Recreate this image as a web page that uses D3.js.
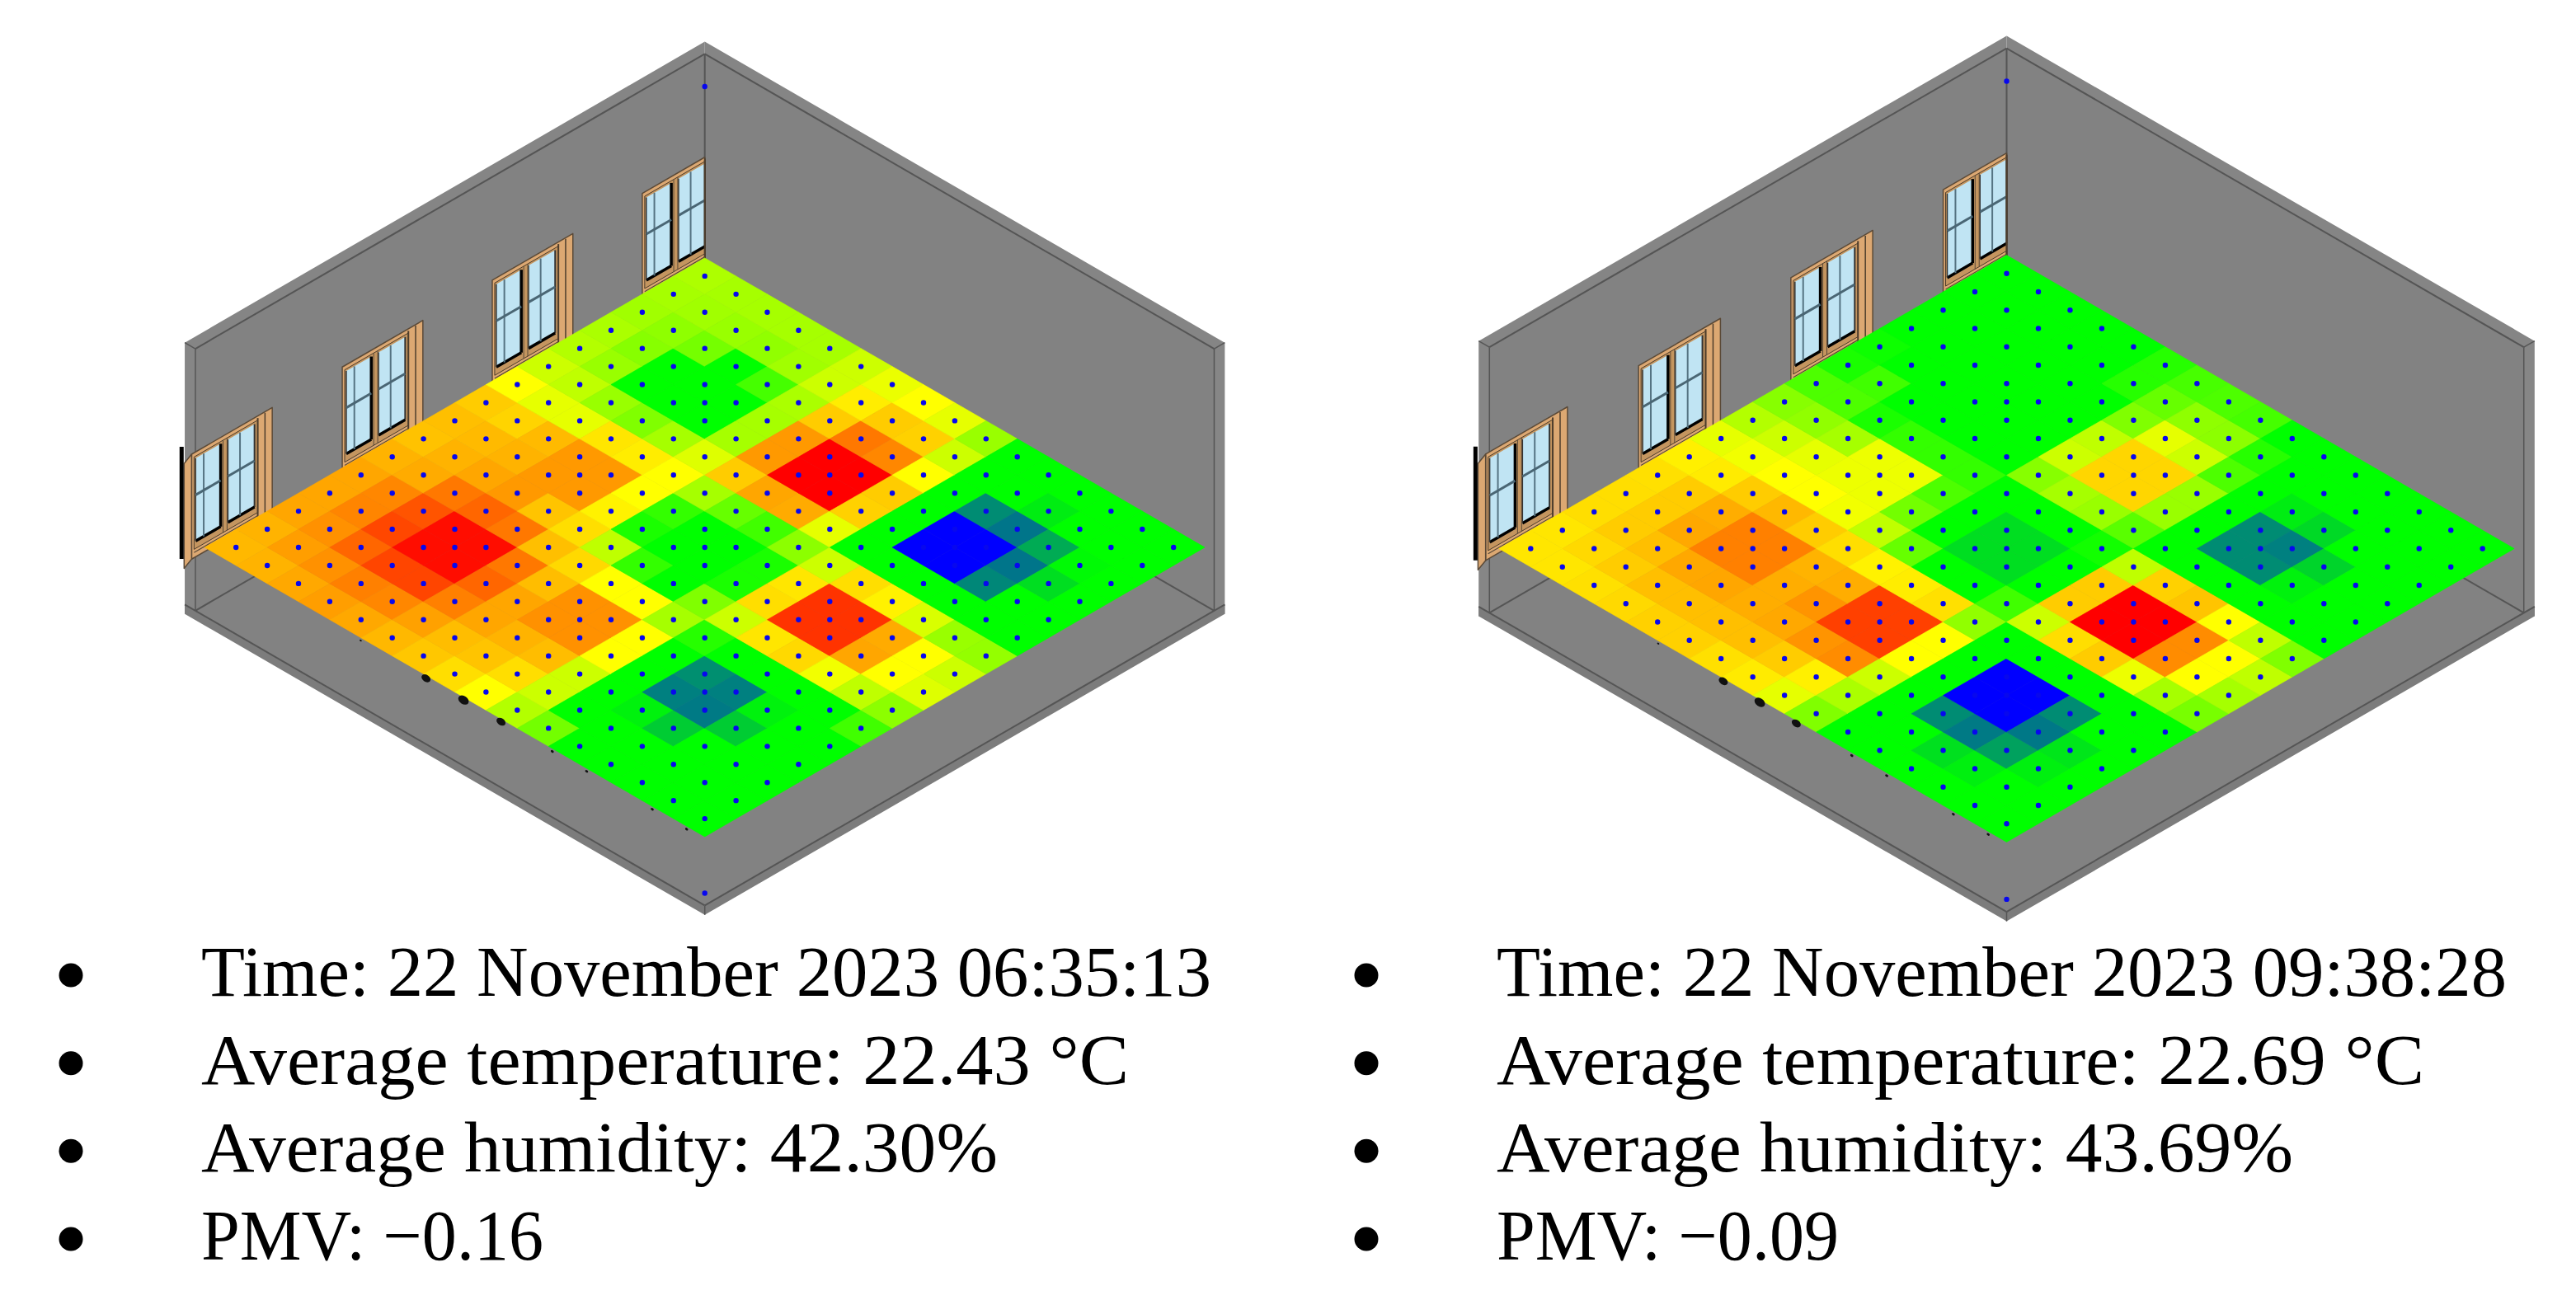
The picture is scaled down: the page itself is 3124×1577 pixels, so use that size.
<!DOCTYPE html>
<html><head><meta charset="utf-8">
<title>Floor temperature maps</title>
<script src="https://cdn.jsdelivr.net/npm/d3@7"></script>
<style>
body { margin: 0; background: #fff; }
text { font-family: "Liberation Serif", serif; fill: #000; }
</style>
</head>
<body>
<script>

// colour level per floor tile: 0 blue, 10 green, 20 yellow, 30 red
// one row per j (back-left wall side is i=0), one column per i
var heatA = [
	[22.8,23,23.4,23.8,23.4,22.8,22.2,21.3,20,17,14.5,10,10,10,10,10],
	[23,23.8,24.3,25,24.7,23.7,22.6,22.3,21.3,18,10,10,10,10,10,10],
	[23.5,24.3,26,27.3,27.3,25,23.5,23,22.6,18,10,9.5,8,10,10,10],
	[23.5,24.8,27.2,29.5,29.5,26,23.5,24.3,24.3,20,10,5,4.8,8,10,10],
	[23.5,24.7,26.7,29.5,29.5,25.3,22.6,24.3,24.3,20,10,5.6,5,9.5,10,10],
	[23,23.3,25.3,26,25.3,22.5,21.5,20,20,16.5,11.5,10,10,10,10,12.5],
	[22.4,23,23.5,24,22.3,21.3,17.5,12,10,15,18,21,21.5,19.5,17.5,15.5],
	[22.5,22.7,23,24,24,20.5,11,10,10,11,21.3,28,28,23.5,20,18.7],
	[22,21.7,22.7,24,24,20,12,10,10,11,21,28,28,23.3,20,18],
	[20,19,19,21,20.7,20,16.5,14,12.5,15.5,18,21.3,20.5,18.5,16,15.8],
	[18,17.5,16,15,16.5,18.7,22,23.5,23.3,19,10,10,10,10,10,10],
	[17,16,10,10,10,16.5,24,30,30,21.8,10,0,0,5.3,10,10],
	[16.7,15.3,10,10,10,16.5,24,30,30,22,10,0,0,4.6,8.7,10],
	[16.3,15.6,14.6,10,12.7,16.7,22,25.3,24.7,20,10,5.5,4.6,6.7,9.8,10],
	[16.5,16.3,16,15.7,16.3,18,20.7,22,21.8,18,10,10,9.3,10,10,10],
	[16.8,16.5,16.5,16.5,16.5,18,19.2,20,19,16,10,10,10,10,10,10]
];
var heatB = [
	[21,21,21.2,21.5,21.8,21.8,21.2,20.8,19,15,10,10,10,10,10,10],
	[21,21.5,22,22.5,22.5,22.5,22.5,22,20.6,16.7,10,10,8.8,9.4,10,10],
	[21.3,22,22.5,23.4,23.5,23.2,23.4,24.2,24.5,18,10,5.5,4.8,6.3,9.4,10],
	[21.3,22,23.4,25,25,23.2,24.2,27.5,27.5,20,10,0,0,4.7,9,10],
	[21.2,22,23.2,25,25,23,23.2,27.5,27.5,20,10,0,0,5.5,10,10],
	[20.6,20.8,22,22.8,22,21.3,20.5,20.7,21.2,15.7,10,10,10,10,10,10],
	[19,19.5,20,20,19.5,17.5,14,10,10,12.5,18,21.3,22,19.3,16.5,14.7],
	[17,18,19,19.3,19.3,14.5,10,8.7,8.7,10,22,30,30,24.5,20,16.5],
	[15.3,15.7,16.5,19.3,19.3,13,10,8.7,8.7,10,22,30,30,24.5,20,17.5],
	[13,13,11,12,12,12,10,10,10,10.7,17.5,21.8,22.3,20,17.5,15],
	[11,12.5,10,10,10,10,15.3,16.5,16,13.5,10,10,10,10,10,10],
	[10.5,10,10,10,10,10,18,21.6,21.6,16,10,5.5,5.5,9.5,10,10],
	[10,10,10,10,10,10,17.5,21.6,21.6,16,10,5.5,5,8.3,10,10],
	[10,10,10,10,10,10,15,19,18,13,10,9.3,8.5,10,10,10],
	[10,10,10,10,10,11.5,14,15.6,15.5,11.5,10,10,10,10,10,10],
	[10,10,10,10,10,11.5,12.8,13,12.7,10,10,10,10,10,10,10]
];

// sensor lattice: one extra point sits at each crossing of these
var sensorLines = [4, 8, 12];

var linesA = ["Time: 22 November 2023 06:35:13", "Average temperature: 22.43 °C", "Average humidity: 42.30%", "PMV: −0.16"];
var linesB = ["Time: 22 November 2023 09:38:28", "Average temperature: 22.69 °C", "Average humidity: 43.69%", "PMV: −0.09"];

var width = 3124;
var height = 1577;
var svg = d3.select("body").append("svg").attr("width", width).attr("height", height);

var color = d3.scaleLinear()
	.domain([0, 10, 20, 30])
	.range(["#0000ff", "#00ff00", "#ffff00", "#ff0000"]);

var gridIdx = d3.range(16);

// room sizes in floor grid units
var wallH = 11.28, floorZ = -3.2, slabZ = -3.72, wallT = 0.34, roomV0 = -0.3, roomU1 = 16.3;

// the original is set in a wider face, so each line is fitted to its measured length
var textWidths = [1225, 1125, 966, 415];

var makeLine = d3.line();

function drawPanel(heat, lines, o) {
	var g = svg.append("g");
	var xs = d3.scaleLinear().domain([-16, 16]).range([o.cx - 16 * o.sx, o.cx + 16 * o.sx]);
	var ys = d3.scaleLinear().domain([-16, 16]).range([o.cy - 16 * o.sy, o.cy + 16 * o.sy]);

	function project(p) {
		return [xs(p[0] + p[1] - 16), ys(p[0] - p[1]) - (p[2] || 0) * o.sy];
	}
	function poly(pts, fill, stroke, sw) {
		g.append("path")
			.attr("d", makeLine(pts.map(project)) + "Z")
			.attr("fill", fill)
			.attr("stroke", stroke || "none")
			.attr("stroke-width", sw || 0)
			.attr("stroke-linejoin", "round");
	}
	function seg(a, b, stroke, sw) {
		g.append("path")
			.attr("d", makeLine([a, b].map(project)))
			.attr("stroke", stroke)
			.attr("stroke-width", sw)
			.attr("fill", "none");
	}

	// room shell
	var wall = "#828282", top = "#858585", edge = "#555555";
	poly([[0, roomV0, floorZ], [0, 16, floorZ], [roomU1, 16, floorZ], [roomU1, roomV0, floorZ]], wall);
	poly([[0, roomV0, wallH], [0, 16, wallH], [0, 16, floorZ], [0, roomV0, floorZ]], wall);
	poly([[0, 16, wallH], [roomU1, 16, wallH], [roomU1, 16, floorZ], [0, 16, floorZ]], wall);
	poly([[-wallT, roomV0, wallH], [-wallT, 16 + wallT, wallH], [0, 16, wallH], [0, roomV0, wallH]], top);
	poly([[-wallT, 16 + wallT, wallH], [roomU1, 16 + wallT, wallH], [roomU1, 16, wallH], [0, 16, wallH]], top);
	poly([[-wallT, roomV0, wallH], [0, roomV0, wallH], [0, roomV0, floorZ], [-wallT, roomV0, slabZ]], "#868686");
	poly([[roomU1, 16, wallH], [roomU1, 16 + wallT, wallH], [roomU1, 16 + wallT, slabZ], [roomU1, 16, floorZ]], "#868686");
	poly([[-wallT, roomV0, floorZ], [roomU1, roomV0, floorZ], [roomU1, roomV0, slabZ], [-wallT, roomV0, slabZ]], "#7c7c7c");
	poly([[roomU1, roomV0, floorZ], [roomU1, 16 + wallT, floorZ], [roomU1, 16 + wallT, slabZ], [roomU1, roomV0, slabZ]], "#7c7c7c");

	seg([0, roomV0, wallH], [0, 16, wallH], edge, 2);
	seg([0, 16, wallH], [roomU1, 16, wallH], edge, 2);
	seg([0, 16, wallH], [0, 16, 0], edge, 2);
	seg([0, roomV0, wallH], [0, roomV0, floorZ], edge, 1.5);
	seg([roomU1, 16, wallH], [roomU1, 16, floorZ], edge, 1.5);
	seg([-wallT, roomV0, wallH], [0, roomV0, wallH], edge, 1.5);
	seg([roomU1, 16, wallH], [roomU1, 16 + wallT, wallH], edge, 1.5);
	seg([0, roomV0, floorZ], [0, 16, floorZ], edge, 2);
	seg([0, 16, floorZ], [roomU1, 16, floorZ], edge, 2);
	seg([-wallT, roomV0, floorZ], [roomU1, roomV0, floorZ], edge, 2);
	seg([roomU1, roomV0, floorZ], [roomU1, 16 + wallT, floorZ], edge, 2);
	seg([roomU1, roomV0, floorZ], [roomU1, roomV0, slabZ], edge, 1.5);

	// windows on the back-left wall
	[-0.42, 4.4, 9.2, 14].forEach(function(v0, n) {
		var w = 2.58, zTop = 5.57, zBot = -0.23;
		function wp(s, t) {
			return [0, Math.min(v0 + s * w, 16), zTop - t * (zTop - zBot)];
		}
		function quad(s0, s1, t0, t1, fill, stroke, sw) {
			poly([wp(s0, t0), wp(s1, t0), wp(s1, t1), wp(s0, t1)], fill, stroke, sw);
		}
		function bar(s0, t0, s1, t1, stroke, sw) {
			seg(wp(s0, t0), wp(s1, t1), stroke, sw);
		}
		quad(0, 1, 0, 1, "#dca872", "#5b4a38", 1.5);
		quad(0.03, 0.82, 0.04, 0.92, "#c4955f", "#4d3d2c", 1);
		quad(0.05, 0.36, 0.06, 0.85, "#c0e4f3");
		quad(0.45, 0.78, 0.06, 0.85, "#c0e4f3");
		bar(0.36, 0.06, 0.36, 0.85, "#000", 3.5);
		bar(0.78, 0.06, 0.78, 0.85, "#333", 2);
		bar(0.05, 0.85, 0.36, 0.85, "#000", 3.5);
		bar(0.45, 0.85, 0.78, 0.85, "#000", 3.5);
		bar(0.05, 0.06, 0.05, 0.85, "#333", 1.5);
		bar(0.45, 0.06, 0.45, 0.85, "#333", 1.5);
		bar(0.15, 0.06, 0.15, 0.85, "#557382", 2);
		bar(0.6, 0.06, 0.6, 0.85, "#557382", 2);
		bar(0.05, 0.41, 0.36, 0.41, "#4a6674", 3);
		bar(0.45, 0.41, 0.78, 0.41, "#4a6674", 3);
		bar(0.39, 0.04, 0.39, 0.92, "#5b4a38", 1);
		bar(0.44, 0.04, 0.44, 0.92, "#5b4a38", 1);
		bar(0.82, 0.02, 0.82, 0.98, "#4d3d2c", 2);
		bar(0.91, 0.01, 0.91, 0.99, "#4d3d2c", 1.5);
		bar(0.03, 0.95, 0.82, 0.95, "#5b4a38", 1.2);
		if (n === 0) {
			// end frame and the black post at the wall end
			poly([[0, -0.66, 5.3], [0, -0.42, 5.57], [0, -0.42, -0.23], [0, -0.66, -0.5]], "#dca872", "#5b4a38", 1.5);
			seg([0, -0.74, 6.3], [0, -0.74, 0.1], "#000", 5);
		}
	});

	// floor tiles
	var tiles = [];
	gridIdx.forEach(function(j) {
		gridIdx.forEach(function(i) {
			tiles.push({ i: i, j: j, value: heat[j][i] });
		});
	});
	g.append("g").selectAll("path").data(tiles).enter().append("path")
		.attr("d", function(d) {
			return makeLine([[d.i, d.j], [d.i, d.j + 1], [d.i + 1, d.j + 1], [d.i + 1, d.j]].map(project)) + "Z";
		})
		.attr("fill", function(d) { return color(d.value); })
		.attr("stroke", function(d) { return color(d.value); })
		.attr("stroke-width", 0.6);

	// small black marks poking out along the front edge
	o.marks.forEach(function(m) {
		var c = project([m[0], -0.08, 0]);
		g.append("ellipse").attr("cx", c[0]).attr("cy", c[1])
			.attr("rx", m[1]).attr("ry", m[1] * 0.7).attr("fill", "#111")
			.attr("transform", "rotate(35 " + c[0] + " " + c[1] + ")");
	});

	// measuring points
	var points = [];
	gridIdx.forEach(function(j) {
		gridIdx.forEach(function(i) { points.push([i + 0.5, j + 0.5, 0]); });
	});
	sensorLines.forEach(function(a) {
		sensorLines.forEach(function(b) { points.push([a, b, 0]); });
	});
	points.push([0, 16, 9.48]);
	points.push([roomU1, roomV0, -2.52]);
	g.append("g").selectAll("circle").data(points).enter().append("circle")
		.attr("cx", function(d) { return project(d)[0]; })
		.attr("cy", function(d) { return project(d)[1]; })
		.attr("r", 3.2)
		.attr("fill", "#0808ee");

	// bullet list
	var row = d3.scaleLinear().domain([0, 3]).range([1208, 1528]);
	g.append("g").selectAll("circle").data(lines).enter().append("circle")
		.attr("cx", o.bullet)
		.attr("cy", function(d, i) { return row(i) - 25; })
		.attr("r", 14.5)
		.attr("fill", "#000");
	g.append("g").selectAll("text").data(lines).enter().append("text")
		.attr("x", o.bullet + 158)
		.attr("y", function(d, i) { return row(i); })
		.attr("font-size", 86.5)
		.attr("textLength", function(d, i) { return textWidths[i]; })
		.attr("lengthAdjust", "spacingAndGlyphs")
		.text(function(d) { return d; });
}

drawPanel(heatA, linesA, {
	cx: 854.7, cy: 664, sx: 37.9, sy: 21.94, bullet: 86,
	marks: [[5.07, 1.5], [7.16, 6], [8.36, 7], [9.56, 6], [11.2, 2], [12.3, 2], [14.4, 2], [15.5, 2]]
});
drawPanel(heatB, linesB, {
	cx: 2433.5, cy: 665.5, sx: 38.48, sy: 22.25, bullet: 1657,
	marks: [[5.1, 1.5], [7.15, 6], [8.3, 7], [9.45, 6], [11.2, 2], [12.3, 2], [14.4, 2], [15.5, 2]]
});

</script>
</body></html>
